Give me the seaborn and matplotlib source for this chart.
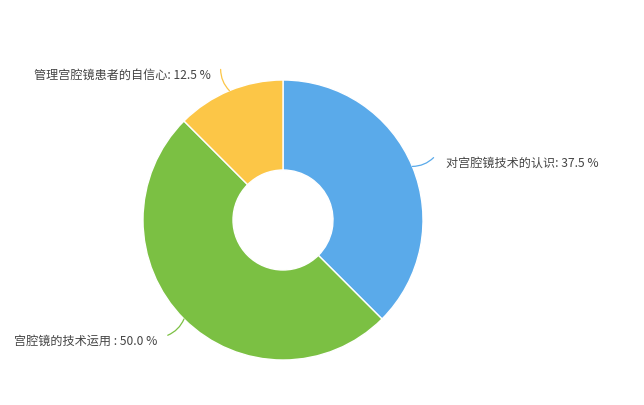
import numpy as np
import matplotlib.pyplot as plt
import seaborn as sns

# 数据
labels = ['对宫腔镜技术的认识', '宫腔镜的技术运用 ', '管理宫腔镜患者的自信心']
values = [37.5, 50.0, 12.5]
colors = ['#5aaaea', '#7bc043', '#fcc647']

sns.set_theme(style='white')
plt.rcParams['font.family'] = ['Noto Sans CJK SC', 'DejaVu Sans']

W, H = 644, 405
fig = plt.figure(figsize=(W / 100, H / 100), dpi=100)
ax = fig.add_axes([0, 0, 1, 1])

cx, cy = 283, H - 220
r_out, r_in = 140, 50

wedges, _ = ax.pie(values, colors=colors, startangle=90, counterclock=False,
                   center=(cx, cy), radius=r_out, frame=True,
                   wedgeprops=dict(width=r_out - r_in, edgecolor='white', linewidth=1))
ax.set_xlim(0, W)
ax.set_ylim(0, H)
ax.set_aspect('equal')
ax.axis('off')

total = sum(values)
for w, lab, v, col in zip(wedges, labels, values, colors):
    ang = np.deg2rad((w.theta1 + w.theta2) / 2)
    x0, y0 = cx + r_out * np.cos(ang), cy + r_out * np.sin(ang)
    x1, y1 = cx + 163 * np.cos(ang), cy + 163 * np.sin(ang)
    right = np.cos(ang) > 0
    tx = x1 + (12 if right else -10)
    ty = y1 - 6
    ax.annotate('', xy=(x0, y0), xytext=(x1, y1),
                arrowprops=dict(arrowstyle='-', color=col, lw=0.9,
                                connectionstyle='arc3,rad=%s' % (-0.2 if right else 0.2),
                                shrinkA=0, shrinkB=0))
    ax.text(tx, ty, f'{lab}: {v / total * 100:.1f} %', fontsize=8.7, color='#444444',
            ha='left' if right else 'right', va='center')

fig.savefig('out.png', dpi=100)
